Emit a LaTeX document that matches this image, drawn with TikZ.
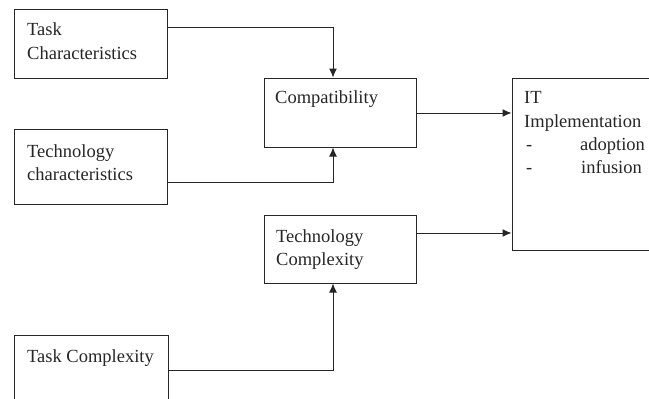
\documentclass[tikz,border=0pt]{standalone}
\usepackage{fontspec}
\setmainfont{Liberation Serif}
\usetikzlibrary{arrows.meta}
\begin{document}
\begin{tikzpicture}[x=1pt,y=-1pt,
  box/.style={draw=black!85, line width=1pt, inner sep=0pt},
  lbl/.style={inner sep=0pt, anchor=base west, text=black!85, font=\fontsize{18.5}{23}\selectfont},
  arr/.style={draw=black!85, line width=1pt, -{Latex[length=9pt,width=8pt]}}]
\useasboundingbox (0,0) rectangle (649,399);
\clip (0,0) rectangle (649,399);
\fill[white] (0,0) rectangle (649,399);
% boxes
\node[box, minimum width=153pt, minimum height=69pt] (taskc) at (90.5,43.5) {};
\node[box, minimum width=153pt, minimum height=75pt] (techc) at (90.5,166.5) {};
\node[box, minimum width=152pt, minimum height=69pt] (compat) at (340,112.5) {};
\node[box, minimum width=152pt, minimum height=68pt] (techx) at (340,249) {};
\node[box, minimum width=154pt, minimum height=96pt] (taskx) at (91,383) {};
\node[box, minimum width=150pt, minimum height=172pt] (it) at (587,164) {};
% labels
\node[lbl] (l1) at (27,35) {Task};
\node[lbl] (l2) at (27,59) {Characteristics};
\node[lbl] (l3) at (27,157) {Technology};
\node[lbl] (l4) at (27,180) {characteristics};
\node[lbl] (l5) at (275,103) {Compatibility};
\node[lbl] (l6) at (276,242) {Technology};
\node[lbl] (l7) at (276,265) {Complexity};
\node[lbl] (l8) at (27,362) {Task Complexity};
\node[lbl] (l9) at (524,103) {IT};
\node[lbl] (l10) at (524,127) {Implementation};
\node[lbl] (l11) at (526,150) {-};
\node[lbl] (l12) at (580,150) {adoption};
\node[lbl] (l13) at (526,173) {-};
\node[lbl] (l14) at (581,173) {infusion};
% connectors
\draw[arr] (taskc.east |- 0,27) -| (compat.north -| 333,0);
\draw[arr] (techc.east |- 0,182) -| (compat.south -| 333,0);
\draw[arr] (taskx.east |- 0,370) -| (techx.south -| 333,0);
\draw[arr] (compat.east |- 0,113) -- (it.west |- 0,113);
\draw[arr] (techx.east |- 0,233) -- (it.west |- 0,233);
\end{tikzpicture}
\end{document}
